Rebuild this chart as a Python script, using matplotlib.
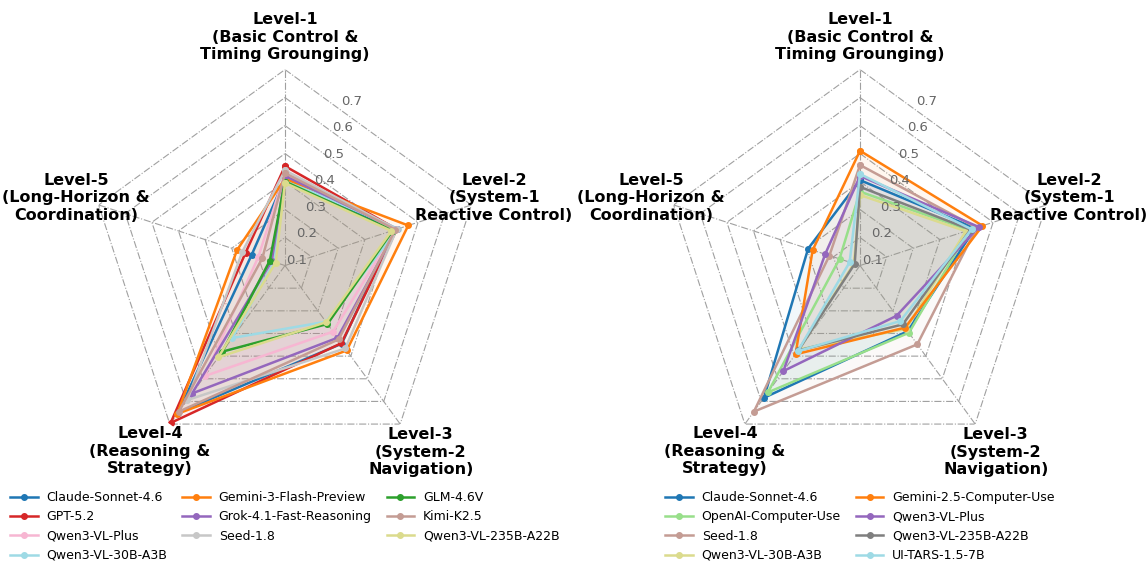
import numpy as np
import matplotlib
matplotlib.use("Agg")
import matplotlib.pyplot as plt
import matplotlib.transforms as mtransforms

LEVELS = ["Level-1\n(Basic Control &\nTiming Grounging)",
          "Level-2\n(System-1\nReactive Control)",
          "Level-3\n(System-2\nNavigation)",
          "Level-4\n(Reasoning &\nStrategy)",
          "Level-5\n(Long-Horizon &\nCoordination)"]
RTICKS = [0.1, 0.2, 0.3, 0.4, 0.5, 0.6, 0.7]

# left panel: general models
left_models = ["Claude-Sonnet-4.6", "GPT-5.2", "Qwen3-VL-Plus", "Qwen3-VL-30B-A3B",
               "Gemini-3-Flash-Preview", "Grok-4.1-Fast-Reasoning", "Seed-1.8",
               "GLM-4.6V", "Kimi-K2.5", "Qwen3-VL-235B-A22B"]
left_claude = [0.31, 0.41, 0.345, 0.65, 0.125]
left_gpt = [0.355, 0.42, 0.343, 0.695, 0.148]
left_qwen_plus = [0.33, 0.415, 0.292, 0.488, 0.10]
left_qwen_30b = [0.305, 0.425, 0.248, 0.32, 0.041]
left_gemini = [0.31, 0.463, 0.375, 0.655, 0.18]
left_grok = [0.32, 0.42, 0.319, 0.565, 0.05]
left_seed = [0.34, 0.42, 0.366, 0.594, 0.16]
left_glm = [0.30, 0.405, 0.258, 0.38, 0.057]
left_kimi = [0.33, 0.415, 0.326, 0.645, 0.085]
left_qwen_235b = [0.295, 0.40, 0.25, 0.405, 0.035]
left_colors = ["#1f77b4", "#d62728", "#f7b6d2", "#9edae5", "#ff7f0e",
               "#9467bd", "#c7c7c7", "#2ca02c", "#c49c94", "#dbdb8d"]

# right panel: computer-use agents
right_models = ["Claude-Sonnet-4.6", "OpenAI-Computer-Use", "Seed-1.8", "Qwen3-VL-30B-A3B",
                "Gemini-2.5-Computer-Use", "Qwen3-VL-Plus", "Qwen3-VL-235B-A22B", "UI-TARS-1.5-7B"]
right_claude = [0.305, 0.432, 0.29, 0.584, 0.195]
right_openai = [0.264, 0.41, 0.297, 0.56, 0.077]
right_seed = [0.359, 0.438, 0.348, 0.645, 0.115]
right_qwen_30b = [0.252, 0.397, 0.28, 0.37, 0.023]
right_gemini = [0.41, 0.46, 0.274, 0.392, 0.178]
right_qwen_plus = [0.32, 0.446, 0.222, 0.466, 0.131]
right_qwen_235b = [0.281, 0.415, 0.26, 0.375, 0.02]
right_uitars = [0.327, 0.419, 0.245, 0.378, 0.039]
right_colors = ["#1f77b4", "#98df8a", "#c49c94", "#dbdb8d",
                "#ff7f0e", "#9467bd", "#7f7f7f", "#9edae5"]

left_data = [left_claude, left_gpt, left_qwen_plus, left_qwen_30b, left_gemini,
             left_grok, left_seed, left_glm, left_kimi, left_qwen_235b]
right_data = [right_claude, right_openai, right_seed, right_qwen_30b,
              right_gemini, right_qwen_plus, right_qwen_235b, right_uitars]

# how far out each level name sits (in r units)
LABEL_R = [0.815, 0.785, 0.825, 0.82, 0.785]


def radar(ax, names, data, colors, ncol):
    n = len(LEVELS)
    angles = np.linspace(0, 2 * np.pi, n, endpoint=False)
    closed = np.concatenate([angles, angles[:1]])
    ax.set_theta_offset(np.pi / 2)
    ax.set_theta_direction(-1)
    ax.set_ylim(0, RTICKS[-1])
    ax.grid(False)
    ax.spines["polar"].set_visible(False)
    ax.set_yticks([])
    ax.set_xticks([])

    # pentagon grid + spokes
    for r in RTICKS:
        ax.plot(closed, [r] * (n + 1), ls="-.", color="#a0a0a0", lw=0.8, zorder=0)
    for a in angles:
        ax.plot([a, a], [0, RTICKS[-1]], ls="-.", color="#a0a0a0", lw=0.8, zorder=0)

    # radial labels, sitting between rings
    trans = mtransforms.offset_copy(ax.transData, fig=ax.figure, x=3, y=-21, units="dots")
    for r in RTICKS:
        ax.text(np.deg2rad(19), r, "%.1f" % r, transform=trans, ha="center", va="center",
                fontsize=9.5, color="#666666")

    for name, vals, c in zip(names, data, colors):
        v = list(vals) + [vals[0]]
        ax.plot(closed, v, color=c, lw=1.8, marker="o", markersize=4, label=name)
        ax.fill(closed, v, color=c, alpha=0.06)

    for a, lab, lr in zip(angles, LEVELS, LABEL_R):
        ax.text(a, lr, lab, ha="center", va="center", fontsize=11.5, fontweight="bold",
                clip_on=False)

    ax.legend(loc="upper center", bbox_to_anchor=(0.5, -0.047), ncol=ncol, frameon=False,
              fontsize=9, handlelength=2.2, handletextpad=0.7, columnspacing=1.2)


fig = plt.figure(figsize=(11.48, 5.68), dpi=100)
ax1 = fig.add_axes([0.0775, 0.1875, 0.3415, 0.690], projection="polar")
ax2 = fig.add_axes([0.5784, 0.1875, 0.3415, 0.690], projection="polar")
radar(ax1, left_models, left_data, left_colors, 3)
radar(ax2, right_models, right_data, right_colors, 2)
fig.savefig("out.png", dpi=100)
